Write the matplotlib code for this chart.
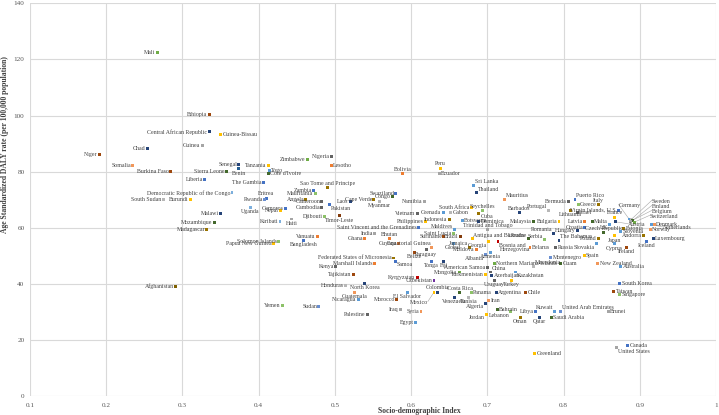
import matplotlib
matplotlib.use('Agg')
import matplotlib.pyplot as plt

# ---- data ----
countries = [
    'Mali', 'Ethiopia', 'Central African Republic', 'Guinea-Bissau', 'Guinea',
    'Chad', 'Niger', 'Somalia', 'Burkina Faso', 'Sierra Leone',
    'Senegal', 'Benin', 'Liberia', 'Democratic Republic of the Congo', 'South Sudan',
    'Burundi', 'Malawi', 'Mozambique', 'Madagascar', 'Afghanistan',
    'Tanzania', 'Zimbabwe', 'Nigeria', 'Lesotho', 'Togo',
    "Cote d'Ivoire", 'The Gambia', 'Sao Tome and Principe', 'Zambia', 'Mauritania',
    'Angola', 'Cameroon', 'Cambodia', 'Pakistan', 'Eritrea',
    'Rwanda', 'Uganda', 'Comoros', 'Nepal', 'Kiribati',
    'Haiti', 'Djibouti', 'Timor-Leste', 'Laos', 'Cape Verde',
    'Myanmar', 'Swaziland', 'Congo', 'Solomon Islands', 'Papua New Guinea',
    'Vanuatu', 'Bangladesh', 'India', 'Ghana', 'Bhutan',
    'Guyana', 'Federated States of Micronesia', 'Marshall Islands', 'Samoa', 'Kenya',
    'Tajikistan', 'Kyrgyzstan', 'Honduras', 'North Korea', 'Guatemala',
    'Nicaragua', 'Morocco', 'Yemen', 'Sudan', 'Palestine',
    'Iraq', 'El Salvador', 'Mexico', 'Colombia', 'Syria',
    'Egypt', 'Costa Rica', 'Panama', 'Argentina', 'Chile',
    'Venezuela', 'Tunisia', 'Iran', 'Algeria', 'Bahrain',
    'Lebanon', 'Libya', 'Oman', 'Jordan', 'Qatar',
    'Kuwait', 'United Arab Emirates', 'Saudi Arabia', 'Brunei', 'Greenland',
    'Guam', 'New Zealand', 'Australia', 'South Korea', 'Taiwan',
    'Singapore', 'Canada', 'United States', 'Peru', 'Bolivia',
    'Ecuador', 'Sri Lanka', 'Thailand', 'Mauritius', 'Namibia',
    'South Africa', 'Seychelles', 'Cuba', 'Barbados', 'Portugal',
    'Vietnam', 'Grenada', 'Gabon', 'Indonesia', 'Botswana',
    'Dominica', 'Philippines', 'Malaysia', 'Maldives', 'Saint Vincent and the Grenadines',
    'Saint Lucia', 'Trinidad and Tobago', 'Suriname', 'Brazil', 'Antigua and Barbuda',
    'Equatorial Guinea', 'Jamaica', 'Georgia', 'Bosnia and\nHerzegovina', 'Global',
    'Moldova', 'Belize', 'Paraguay', 'Albania', 'Armenia',
    'Northern Mariana Islands', 'Tonga', 'Fiji', 'American Samoa', 'China',
    'Mongolia', 'Uzbekistan', 'Turkmenistan', 'Azerbaijan', 'Kazakhstan',
    'Uruguay', 'Turkey', 'Ukraine', 'Romania', 'Serbia',
    'The Bahamas', 'Belarus', 'Russia', 'Macedonia', 'Montenegro',
    'Puerto Rico', 'Bermuda', 'Greece', 'Italy', 'Virgin Islands, U.S.',
    'Israel', 'Germany', 'France', 'Lithuania', 'Latvia',
    'Bulgaria', 'Malta', 'Croatia', 'Hungary', 'Czech Republic',
    'UK', 'Austria', 'Sweden', 'Finland', 'Belgium',
    'Switzerland', 'Estonia', 'Slovenia', 'Denmark', 'Netherlands',
    'Norway', 'Andorra', 'Iceland', 'Luxembourg', 'Ireland',
    'Poland', 'Japan', 'Slovakia', 'Cyprus', 'Spain',
]

sdi = [
    0.267, 0.335, 0.335, 0.350, 0.326,
    0.254, 0.191, 0.235, 0.284, 0.358,
    0.374, 0.374, 0.329, 0.365, 0.275,
    0.310, 0.350, 0.342, 0.332, 0.291,
    0.413, 0.464, 0.495, 0.495, 0.414,
    0.413, 0.406, 0.490, 0.472, 0.474,
    0.462, 0.483, 0.483, 0.493, 0.410,
    0.408, 0.389, 0.435, 0.429, 0.428,
    0.443, 0.486, 0.506, 0.520, 0.551,
    0.558, 0.580, 0.576, 0.426, 0.420,
    0.477, 0.459, 0.552, 0.539, 0.572,
    0.584, 0.577, 0.552, 0.579, 0.501,
    0.524, 0.608, 0.514, 0.539, 0.526,
    0.531, 0.581, 0.431, 0.479, 0.543,
    0.586, 0.595, 0.630, 0.635, 0.613,
    0.606, 0.664, 0.679, 0.712, 0.750,
    0.657, 0.675, 0.702, 0.698, 0.713,
    0.731, 0.763, 0.743, 0.699, 0.768,
    0.788, 0.796, 0.784, 0.859, 0.762,
    0.796, 0.845, 0.875, 0.874, 0.866,
    0.874, 0.884, 0.870, 0.638, 0.589,
    0.637, 0.682, 0.686, 0.722, 0.617,
    0.679, 0.694, 0.689, 0.742, 0.780,
    0.608, 0.642, 0.652, 0.650, 0.667,
    0.689, 0.619, 0.761, 0.657, 0.610,
    0.655, 0.700, 0.643, 0.665, 0.680,
    0.627, 0.677, 0.701, 0.714, 0.655,
    0.686, 0.604, 0.620, 0.698, 0.704,
    0.709, 0.627, 0.643, 0.700, 0.704,
    0.663, 0.630, 0.698, 0.706, 0.737,
    0.709, 0.732, 0.754, 0.787, 0.775,
    0.794, 0.756, 0.790, 0.760, 0.783,
    0.815, 0.807, 0.819, 0.846, 0.872,
    0.818, 0.886, 0.867, 0.809, 0.828,
    0.794, 0.838, 0.828, 0.818, 0.853,
    0.860, 0.868, 0.889, 0.891, 0.888,
    0.893, 0.879, 0.875, 0.919, 0.915,
    0.914, 0.905, 0.909, 0.918, 0.882,
    0.846, 0.867, 0.843, 0.867, 0.827,
]

daly = [
    122.4, 100.2, 94.2, 93.3, 89.3,
    88.2, 86.2, 82.3, 80.2, 80.2,
    82.5, 81.0, 77.1, 72.4, 70.2,
    70.2, 65.1, 62.0, 59.2, 39.2,
    82.3, 84.2, 85.4, 82.3, 80.4,
    79.2, 76.2, 74.2, 73.2, 72.1,
    70.2, 69.3, 67.1, 68.2, 70.5,
    70.0, 67.3, 67.0, 66.2, 62.1,
    63.1, 64.0, 64.2, 69.2, 70.1,
    69.3, 72.1, 71.2, 55.2, 54.2,
    57.0, 55.5, 58.0, 56.2, 56.2,
    54.4, 49.2, 47.1, 48.1, 46.2,
    43.2, 42.3, 39.3, 40.1, 37.0,
    34.3, 34.3, 32.3, 32.0, 29.2,
    31.0, 37.0, 37.0, 37.0, 30.1,
    26.2, 36.9, 36.9, 36.9, 36.9,
    35.1, 35.1, 34.0, 33.1, 31.0,
    30.1, 30.1, 28.1, 29.2, 28.1,
    30.1, 30.1, 28.1, 30.1, 15.0,
    47.1, 47.1, 46.2, 40.1, 37.1,
    36.2, 18.0, 17.3, 81.2, 79.3,
    79.4, 75.2, 72.4, 70.2, 69.3,
    67.3, 66.2, 65.2, 65.4, 66.2,
    65.2, 65.4, 65.4, 63.0, 62.4,
    62.3, 62.3, 62.1, 59.3, 60.1,
    58.0, 59.3, 56.9, 56.9, 56.1,
    53.0, 53.1, 55.1, 55.0, 54.4,
    52.1, 51.2, 52.1, 50.4, 51.2,
    47.1, 48.1, 48.0, 45.7, 44.2,
    44.2, 41.2, 43.2, 43.0, 44.2,
    41.2, 41.2, 56.1, 58.1, 55.7,
    55.4, 53.0, 52.9, 46.2, 49.5,
    70.1, 69.2, 68.2, 68.2, 66.2,
    65.4, 63.1, 63.8, 66.2, 62.1,
    62.1, 62.1, 60.1, 59.0, 58.3,
    61.3, 62.1, 63.0, 62.6, 62.3,
    62.0, 59.7, 58.7, 61.1, 61.1,
    59.3, 57.1, 55.1, 56.1, 53.1,
    56.2, 57.1, 54.3, 54.2, 50.1,
]

x_ticks = [0.1, 0.2, 0.3, 0.4, 0.5, 0.6, 0.7, 0.8, 0.9, 1.0]
x_tick_labels = ['0.1', '0.2', '0.3', '0.4', '0.5', '0.6', '0.7', '0.8', '0.9', '1']
y_ticks = [0, 20, 40, 60, 80, 100, 120, 140]

# ---- styling ----
palette = {
    'bl': '#4472C4', 'or': '#ED7D31', 'gy': '#A5A5A5', 'go': '#FFC000',
    'lb': '#5B9BD5', 'gr': '#70AD47', 'nv': '#264478', 'br': '#9E480E',
    'dg': '#636363', 'dgo': '#997300', 'db': '#255E91', 'dgr': '#43682B',
    'lbl': '#698ED0', 'lor': '#F1975A', 'lgy': '#B7B7B7', 'llb': '#7CAFDD',
    'lgr': '#8CC168', 'red': '#C00000', 'pu': '#7030A0', 'ol': '#7F6000',
    'dbr': '#843C0C',
}
colors = [
    'gr', 'br', 'nv', 'go', 'gy',
    'nv', 'br', 'lor', 'br', 'dgr',
    'nv', 'db', 'bl', 'llb', 'lgy',
    'go', 'nv', 'dgr', 'dgo', 'ol',
    'go', 'gr', 'dg', 'or', 'lb',
    'dgr', 'bl', 'dgo', 'bl', 'lgr',
    'dgo', 'dg', 'dg', 'bl', 'bl',
    'lbl', 'llb', 'bl', 'go', 'llb',
    'gy', 'lgr', 'dbr', 'nv', 'dgo',
    'lgy', 'bl', 'dgr', 'lgr', 'go',
    'or', 'bl', 'gy', 'or', 'or',
    'or', 'dgo', 'or', 'bl', 'dg',
    'br', 'red', 'lgy', 'nv', 'lor',
    'lb', 'br', 'lgr', 'lbl', 'dg',
    'gy', 'lb', 'go', 'nv', 'lor',
    'lb', 'dgr', 'lgr', 'nv', 'br',
    'nv', 'lgy', 'lor', 'nv', 'dgr',
    'lgr', 'bl', 'dgo', 'go', 'nv',
    'lb', 'lbl', 'dgr', 'gy', 'go',
    'dgr', 'lor', 'lb', 'bl', 'br',
    'lgr', 'bl', 'gy', 'go', 'or',
    'gy', 'lb', 'nv', 'lor', 'gy',
    'go', 'lgr', 'dgo', 'nv', 'lgy',
    'dg', 'lb', 'lgy', 'dgo', 'lb',
    'nv', 'go', 'dgr', 'lb', 'bl',
    'lgr', 'gy', 'br', 'dbr', 'go',
    'lor', 'dgo', 'go', 'red', 'lb',
    'or', 'br', 'dg', 'lbl', 'lb',
    'gr', 'bl', 'nv', 'dg', 'dg',
    'gr', 'pu', 'go', 'nv', 'lb',
    'dg', 'go', 'dgr', 'nv', 'lgr',
    'nv', 'or', 'dg', 'lgy', 'lbl',
    'bl', 'dg', 'lgr', 'dgo', 'bl',
    'dg', 'lb', 'go', 'dgo', 'or',
    'go', 'dgr', 'bl', 'nv', 'dgr',
    'lb', 'nv', 'lgy', 'dgr', 'gy',
    'gr', 'dgo', 'lb', 'lor', 'lb',
    'lor', 'dgo', 'bl', 'nv', 'br',
    'dgo', 'go', 'lb', 'lb', 'go',
]

# label side (default: left of the point)
label_side = {
    'Guinea-Bissau': 'R', 'Benin': 'B', 'Lesotho': 'R', 'Togo': 'R', "Cote d'Ivoire": 'R',
    'Sao Tome and Principe': 'A', 'Pakistan': 'BR', 'Eritrea': 'A', 'Uganda': 'B',
    'Haiti': 'B', 'Timor-Leste': 'B', 'Myanmar': 'B', 'Bangladesh': 'B', 'Bhutan': 'A',
    'Samoa': 'BR', 'North Korea': 'B', 'Guatemala': 'B', 'El Salvador': 'B',
    'Colombia': 'A', 'Costa Rica': 'A', 'Panama': 'R', 'Argentina': 'R', 'Chile': 'R',
    'Venezuela': 'B', 'Tunisia': 'B', 'Iran': 'R', 'Algeria': 'BL', 'Bahrain': 'R',
    'Lebanon': 'BL', 'Oman': 'B', 'Jordan': 'BL', 'Qatar': 'B', 'Kuwait': 'AL',
    'United Arab Emirates': 'AR', 'Saudi Arabia': 'R', 'Brunei': 'R', 'Greenland': 'R',
    'Guam': 'R', 'New Zealand': 'R', 'Australia': 'R', 'South Korea': 'R', 'Taiwan': 'R',
    'Singapore': 'R', 'Canada': 'R', 'United States': 'BR', 'Peru': 'A', 'Bolivia': 'A',
    'Ecuador': 'R', 'Sri Lanka': 'AR', 'Thailand': 'AR', 'Mauritius': 'AR',
    'Seychelles': 'A', 'Cuba': 'BR', 'Barbados': 'A', 'Gabon': 'R', 'Botswana': 'R',
    'Dominica': 'R', 'Maldives': 'AL', 'Trinidad and Tobago': 'A',
    'Antigua and Barbuda': 'AR', 'Equatorial Guinea': 'AL', 'Jamaica': 'AL',
    'Georgia': 'BL', 'Bosnia and\nHerzegovina': 'BR', 'Global': 'B', 'Belize': 'B',
    'Paraguay': 'B', 'Albania': 'BL', 'Armenia': 'B', 'Northern Mariana Islands': 'R',
    'Tonga': 'B', 'Fiji': 'B', 'China': 'AR', 'Azerbaijan': 'R', 'Kazakhstan': 'BR',
    'Uruguay': 'B', 'Turkey': 'B', 'Ukraine': 'AL', 'Romania': 'AL', 'Serbia': 'AL',
    'The Bahamas': 'AR', 'Belarus': 'R', 'Russia': 'R', 'Macedonia': 'AR',
    'Montenegro': 'R', 'Puerto Rico': 'AR', 'Greece': 'R', 'Italy': 'A', 'Israel': 'R',
    'France': 'A', 'Lithuania': 'B', 'Malta': 'R', 'Czech Republic': 'A', 'UK': 'BL',
    'Estonia': 'R', 'Slovenia': 'R', 'Denmark': 'R', 'Norway': 'R', 'Iceland': 'B',
    'Luxembourg': 'R', 'Ireland': 'B', 'Japan': 'B', 'Slovakia': 'BL', 'Cyprus': 'B',
    'Spain': 'R', 'Portugal': 'AL',
}
# labels pulled away from their point with a leader line: (x, y, ha)
leader_labels = {
    'Mexico': (0.622, 33.3, 'right'),
    'Germany': (0.872, 67.9, 'left'),
    'Austria': (0.885, 61.0, 'left'),
    'Sweden': (0.916, 69.4, 'left'),
    'Finland': (0.916, 67.6, 'left'),
    'Belgium': (0.916, 65.8, 'left'),
    'Switzerland': (0.913, 64.0, 'left'),
    'Netherlands': (0.930, 59.9, 'left'),
}

side_fmt = {
    'L': ((-1.3, 0), 'right', 'center'),
    'R': ((1.3, 0), 'left', 'center'),
    'A': ((0, 1.3), 'center', 'bottom'),
    'B': ((0, -1.3), 'center', 'top'),
    'AL': ((-1, 0.8), 'right', 'bottom'),
    'AR': ((1, 0.8), 'left', 'bottom'),
    'BL': ((-1, -0.8), 'right', 'top'),
    'BR': ((1, -0.8), 'left', 'top'),
}

plt.rcParams['font.family'] = ['Liberation Serif', 'DejaVu Serif']

fig = plt.figure(figsize=(7.19, 4.15), dpi=100)
ax = fig.add_axes([30 / 719, 1 - 396 / 415, 686 / 719, 392.7 / 415])

ax.scatter(sdi, daly, s=4.5, marker='s', c=[palette[c] for c in colors],
           linewidths=0, zorder=3)

txt_color = '#404040'
for name, x, y in zip(countries, sdi, daly):
    if name in leader_labels:
        lx, ly, ha = leader_labels[name]
        ax.plot([x, lx], [y, ly + 0.4], color='#a6a6a6', lw=0.4, zorder=2)
        ax.text(lx, ly, name, fontsize=4.2, color=txt_color, ha=ha, va='center')
        continue
    off, ha, va = side_fmt[label_side.get(name, 'L')]
    ax.annotate(name, (x, y), xytext=off, textcoords='offset points',
                fontsize=4.2, color=txt_color, ha=ha, va=va,
                linespacing=0.9)

ax.set_xlim(0.1, 1.0)
ax.set_ylim(0, 140)
ax.set_xticks(x_ticks)
ax.set_xticklabels(x_tick_labels)
ax.set_yticks(y_ticks)
ax.grid(True, color='#d9d9d9', lw=0.8)
ax.set_axisbelow(True)
for sp in ax.spines.values():
    sp.set_visible(False)
ax.tick_params(length=0, labelsize=5.2, labelcolor='#595959')
ax.tick_params(axis='y', pad=4)
ax.tick_params(axis='x', pad=5)

ax.set_xlabel('Socio-demographic Index', fontsize=5.5, fontweight='bold', color='#404040')
ax.set_ylabel('Age Standardized DALY rate (per 100,000 population)', fontsize=5.5,
              fontweight='bold', color='#404040')
ax.xaxis.set_label_coords(0.567, -0.028)
ax.yaxis.set_label_coords(-0.031, 0.64)

fig.savefig('out.png', dpi=100)
